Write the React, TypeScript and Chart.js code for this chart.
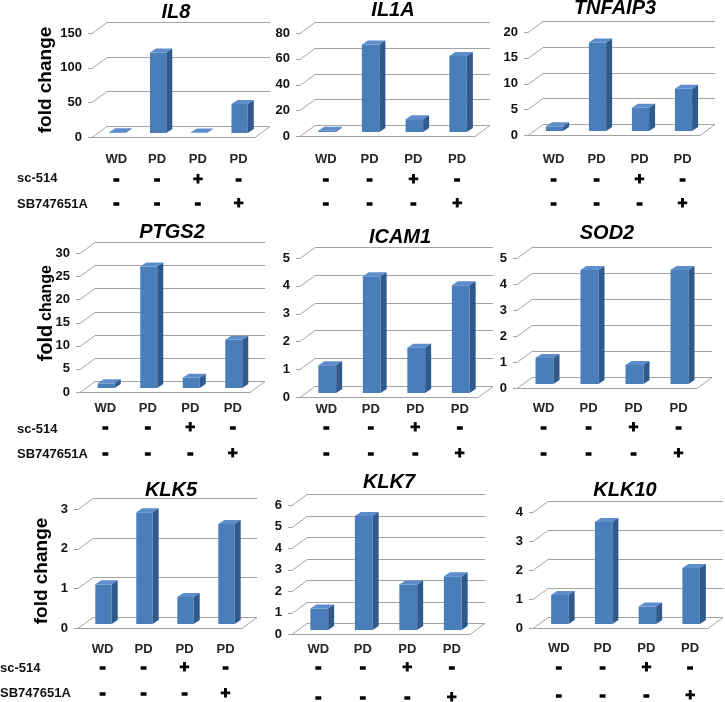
import React, { useEffect, useRef } from "react";
import { Chart, registerables } from "chart.js";

Chart.register(...registerables);

// ---------- data ----------
const categories = ["WD", "PD", "PD", "PD"];
const sc514Marks = ["-", "-", "+", "-"];
const sb747651aMarks = ["-", "-", "-", "+"];
const treatmentNames = ["sc-514", "SB747651A"];
const yAxisTitle = ["fold", "change"];

const geneNames = ["IL8", "IL1A", "TNFAIP3", "PTGS2", "ICAM1", "SOD2", "KLK5", "KLK7", "KLK10"];

const il8Values = [1, 116, 0.6, 42];
const il1aValues = [1, 68, 10, 59];
const tnfaip3Values = [0.9, 17.2, 4.5, 8.2];
const ptgs2Values = [1, 26.2, 2.2, 10.4];
const icam1Values = [1, 4.2, 1.63, 3.88];
const sod2Values = [1, 4.38, 0.73, 4.38];
const klk5Values = [1, 2.82, 0.68, 2.52];
const klk7Values = [1, 5.3, 2.12, 2.5];
const klk10Values = [1, 3.52, 0.6, 1.93];

const geneValues = [il8Values, il1aValues, tnfaip3Values, ptgs2Values, icam1Values, sod2Values, klk5Values, klk7Values, klk10Values];

const axisMax = [150, 80, 20, 30, 5, 5, 3, 6, 4];
const axisStep = [50, 20, 5, 5, 1, 1, 1, 1, 1];

// ---------- layout / style ----------
const W = 725;
const H = 702;
const DX = 15; // wall depth (x)
const DY = 11; // wall depth (y)
const BX = 5; // bar plane offset from front
const BY = 4;
const FONT = "'Liberation Sans', Arial, Helvetica, sans-serif";
const FRONT = "#4a7ebb";
const SIDE = "#2f5a8c";
const TOP = "#5d8dcb";
const GRID = "#a3a3a3";

type PanelLayout = {
  left: number; right: number; y0: number; yTop: number;
  titleX: number; titleY: number; catY: number; m1Y: number; m2Y: number;
  side?: { foldX: number; foldY?: number; split?: { foldY: number; changeY: number }; rowX: number; r1Y: number; r2Y: number };
};

const layouts: PanelLayout[] = [
  { left: 92, right: 255, y0: 137, yTop: 33, titleX: 176, titleY: 12, catY: 159, m1Y: 179, m2Y: 203,
    side: { foldX: 51, foldY: 80, rowX: 17, r1Y: 178, r2Y: 204 } },
  { left: 300, right: 475, y0: 136, yTop: 33, titleX: 393, titleY: 10, catY: 159, m1Y: 179, m2Y: 203 },
  { left: 528, right: 700, y0: 135, yTop: 32, titleX: 615, titleY: 8, catY: 159, m1Y: 179, m2Y: 203 },
  { left: 80, right: 250, y0: 392, yTop: 253, titleX: 172, titleY: 232, catY: 408, m1Y: 427, m2Y: 453,
    side: { foldX: 52, split: { foldY: 343, changeY: 293 }, rowX: 17, r1Y: 429, r2Y: 454 } },
  { left: 300, right: 478, y0: 397, yTop: 258, titleX: 400, titleY: 237, catY: 409, m1Y: 427, m2Y: 453 },
  { left: 517, right: 697, y0: 388, yTop: 258, titleX: 607, titleY: 233, catY: 408, m1Y: 427, m2Y: 453 },
  { left: 78, right: 242, y0: 628, yTop: 509, titleX: 171, titleY: 490, catY: 649, m1Y: 667, m2Y: 693,
    side: { foldX: 47, foldY: 571, rowX: 0, r1Y: 668, r2Y: 693 } },
  { left: 292, right: 470, y0: 634, yTop: 505, titleX: 389, titleY: 482, catY: 649, m1Y: 667, m2Y: 697 },
  { left: 533, right: 708, y0: 628, yTop: 512, titleX: 625, titleY: 490, catY: 648, m1Y: 667, m2Y: 695 },
];

function drawMark(ctx: CanvasRenderingContext2D, m: string, x: number, y: number) {
  ctx.font = `bold 17px ${FONT}`;
  ctx.lineWidth = m === "-" ? 1.6 : 1;
  ctx.strokeStyle = "#000";
  ctx.fillText(m, x, y);
  ctx.strokeText(m, x, y);
}

function makePlugin(idx: number) {
  const lay = layouts[idx];
  return {
    id: "threeD" + idx,
    beforeDatasetsDraw(chart: any) {
      const ctx = chart.ctx;
      const ys = chart.scales.y;
      const ca = chart.chartArea;
      const fl = ca.left - BX;
      const fr = ca.right - BX;
      ctx.save();
      ctx.strokeStyle = GRID;
      ctx.lineWidth = 1;
      const tickVals: number[] = [];
      for (let v = 0; v <= axisMax[idx] + 1e-9; v += axisStep[idx]) tickVals.push(v);
      for (const v of tickVals) {
        const py = Math.round(ys.getPixelForValue(v) + BY) + 0.5;
        ctx.beginPath();
        ctx.moveTo(fl - 4, py);
        ctx.lineTo(fl, py);
        ctx.lineTo(fl + DX, py - DY);
        ctx.lineTo(fr + DX, py - DY);
        ctx.stroke();
      }
      const p0 = Math.round(ys.getPixelForValue(0) + BY) + 0.5;
      ctx.beginPath();
      ctx.moveTo(fl, p0);
      ctx.lineTo(fr, p0);
      ctx.lineTo(fr + DX, p0 - DY);
      ctx.stroke();
      ctx.fillStyle = "#111";
      ctx.font = `bold 13px ${FONT}`;
      ctx.textAlign = "right";
      ctx.textBaseline = "middle";
      for (const v of tickVals) {
        ctx.fillText(String(v), fl - 10, ys.getPixelForValue(v) + BY);
      }
      ctx.restore();
    },
    afterDatasetsDraw(chart: any) {
      const ctx = chart.ctx;
      const meta = chart.getDatasetMeta(0);
      const d = BX + 1;
      const e = BY;
      ctx.save();
      meta.data.forEach((el: any) => {
        const { x, y, base, width } = el.getProps(["x", "y", "base", "width"], true);
        const l = x - width / 2;
        const r = x + width / 2;
        ctx.fillStyle = TOP;
        ctx.beginPath();
        ctx.moveTo(l, y);
        ctx.lineTo(l + d, y - e);
        ctx.lineTo(r + d, y - e);
        ctx.lineTo(r, y);
        ctx.closePath();
        ctx.fill();
        ctx.fillStyle = SIDE;
        ctx.beginPath();
        ctx.moveTo(r, y);
        ctx.lineTo(r + d, y - e);
        ctx.lineTo(r + d, base - e);
        ctx.lineTo(r, base);
        ctx.closePath();
        ctx.fill();
      });
      ctx.restore();
    },
    afterDraw(chart: any) {
      const ctx = chart.ctx;
      const xs = chart.scales.x;
      ctx.save();
      // title
      ctx.fillStyle = "#000";
      ctx.font = `italic bold 20px ${FONT}`;
      ctx.textAlign = "center";
      ctx.textBaseline = "middle";
      ctx.fillText(geneNames[idx], lay.titleX, lay.titleY);
      // categories
      ctx.fillStyle = "#262626";
      ctx.font = `bold 13px ${FONT}`;
      categories.forEach((c, i) => ctx.fillText(c, xs.getPixelForValue(i) - 1, lay.catY));
      ctx.fillStyle = "#000";
      sc514Marks.forEach((m, i) => drawMark(ctx, m, xs.getPixelForValue(i) - 1, lay.m1Y));
      sb747651aMarks.forEach((m, i) => drawMark(ctx, m, xs.getPixelForValue(i) - 1, lay.m2Y));
      // left column extras
      if (lay.side) {
        const s = lay.side;
        ctx.fillStyle = "#111";
        ctx.font = `bold 13px ${FONT}`;
        ctx.textAlign = "left";
        ctx.fillText(treatmentNames[0], s.rowX, s.r1Y);
        ctx.fillText(treatmentNames[1], s.rowX, s.r2Y);
        ctx.fillStyle = "#000";
        ctx.textBaseline = "alphabetic";
        ctx.textAlign = "center";
        if (s.split) {
          ctx.save();
          ctx.translate(s.foldX, s.split.foldY);
          ctx.rotate(-Math.PI / 2);
          ctx.font = `bold 20px ${FONT}`;
          ctx.fillText(yAxisTitle[0], 0, 0);
          ctx.restore();
          ctx.save();
          ctx.translate(s.foldX - 1, s.split.changeY);
          ctx.rotate(-Math.PI / 2);
          ctx.font = `bold 16px ${FONT}`;
          ctx.fillText(yAxisTitle[1], 0, 0);
          ctx.restore();
        } else {
          ctx.save();
          ctx.translate(s.foldX, s.foldY || 0);
          ctx.rotate(-Math.PI / 2);
          ctx.font = `bold 19px ${FONT}`;
          ctx.fillText(yAxisTitle.join(" "), 0, 0);
          ctx.restore();
        }
      }
      ctx.restore();
    },
  };
}

function Panel({ idx }: { idx: number }) {
  const ref = useRef<HTMLCanvasElement | null>(null);
  useEffect(() => {
    const lay = layouts[idx];
    const canvas = ref.current;
    if (!canvas) return;
    const chart = new Chart(canvas, {
      type: "bar",
      data: {
        labels: categories,
        datasets: [
          {
            data: geneValues[idx],
            backgroundColor: FRONT,
            borderWidth: 0,
            barPercentage: 0.4,
            categoryPercentage: 1,
          },
        ],
      },
      options: {
        responsive: false,
        animation: false,
        devicePixelRatio: 1,
        events: [],
        layout: {
          padding: {
            left: lay.left + BX,
            right: W - (lay.right + BX),
            top: lay.yTop - BY,
            bottom: H - (lay.y0 - BY),
          },
        },
        scales: {
          x: { display: false },
          y: { display: false, min: 0, max: axisMax[idx] },
        },
        plugins: { legend: { display: false }, tooltip: { enabled: false }, title: { display: false } },
      },
      plugins: [makePlugin(idx)],
    } as any);
    return () => chart.destroy();
  }, [idx]);
  return (
    <canvas
      ref={ref}
      width={W}
      height={H}
      style={{ position: "absolute", left: 0, top: 0, width: W, height: H }}
    />
  );
}

export default function App() {
  useEffect(() => {
    document.body.style.margin = "0";
  }, []);
  return (
    <div style={{ position: "absolute", left: 0, top: 0, width: W, height: H, background: "#fff", overflow: "hidden" }}>
      {geneNames.map((g, i) => (
        <Panel key={g} idx={i} />
      ))}
    </div>
  );
}
